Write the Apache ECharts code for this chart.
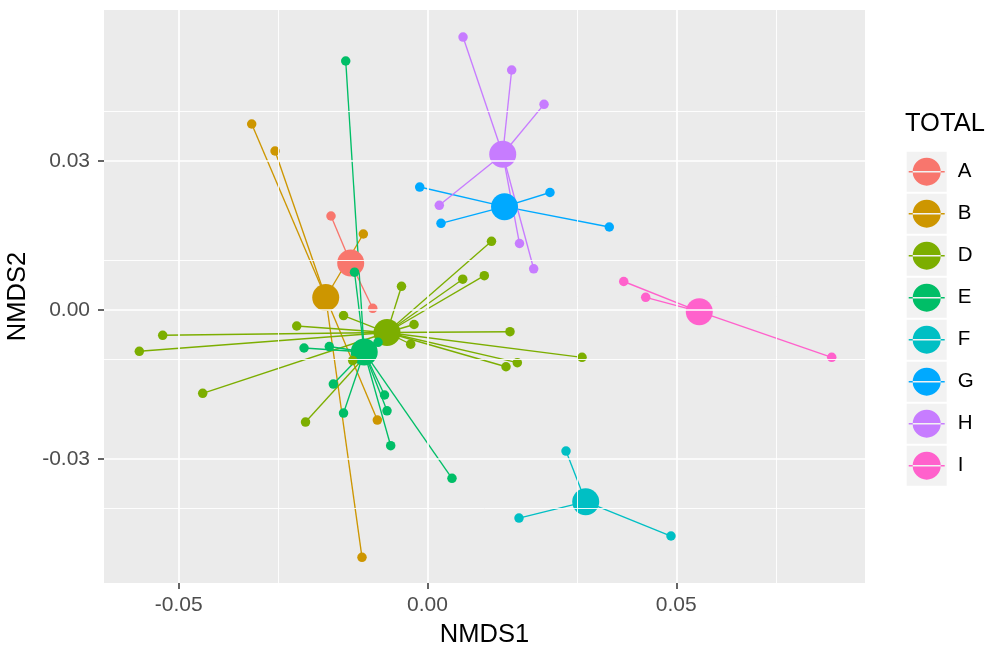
<!DOCTYPE html>
<html><head><meta charset="utf-8">
<script src="https://cdn.jsdelivr.net/npm/echarts@6/dist/echarts.min.js"></script>
<style>html,body{margin:0;padding:0;background:#fff}#c{width:992px;height:650px}</style>
</head><body><div id="c"></div>
<script>
// ---- data ----
const groups = ['A', 'B', 'D', 'E', 'F', 'G', 'H', 'I'];
const colors = ['#F8766D', '#CD9600', '#7CAE00', '#00BE67', '#00BFC4', '#00A9FF', '#C77CFF', '#FF61CC'];
const centroidX = [-0.01544, -0.02046, -0.00814, -0.01272, 0.03180, 0.01548, 0.01512, 0.05463];
const centroidY = [0.00946, 0.00252, -0.00453, -0.00846, -0.03859, 0.02080, 0.03135, -0.00034];
const ptsA = [[-0.01940, 0.01893], [-0.01101, 0.00034]];
const ptsB = [[-0.03534, 0.03745], [-0.03065, 0.03201], [-0.01290, 0.01530], [-0.01009, -0.02215], [-0.01317, -0.04979]];
const ptsD = [[-0.00523, 0.00477], [-0.01688, -0.00111], [-0.02629, -0.00322], [-0.05323, -0.00509], [-0.05793, -0.00831],
  [-0.04519, -0.01677], [-0.02452, -0.02255], [-0.01504, -0.01017], [-0.00271, -0.00292], [-0.00338, -0.00689],
  [0.00708, 0.00620], [0.01142, 0.00691], [0.01286, 0.01383], [0.01658, -0.00437], [0.03106, -0.00952],
  [0.01805, -0.01061], [0.01578, -0.01142]];
const ptsE = [[-0.01644, 0.05013], [-0.01467, 0.00761], [-0.02482, -0.00765], [-0.01974, -0.00735], [-0.00995, -0.00650],
  [-0.01893, -0.01490], [-0.01688, -0.02074], [-0.00864, -0.01711], [-0.00814, -0.02029], [-0.00740, -0.02732],
  [0.00492, -0.03388]];
const ptsF = [[0.02784, -0.02839], [0.01839, -0.04188], [0.04894, -0.04550]];
const ptsG = [[-0.00157, 0.02476], [0.00271, 0.01746], [0.02462, 0.02366], [0.03654, 0.01671]];
const ptsH = [[0.00714, 0.05496], [0.01692, 0.04832], [0.02342, 0.04141], [0.00237, 0.02108], [0.01849, 0.01339], [0.02134, 0.00830]];
const ptsI = [[0.03944, 0.00574], [0.04386, 0.00256], [0.08125, -0.00952]];
const groupPoints = [ptsA, ptsB, ptsD, ptsE, ptsF, ptsG, ptsH, ptsI];

const xMajor = [-0.05, 0, 0.05];
const xMinor = [-0.025, 0.025, 0.075];
const yMajor = [-0.03, 0, 0.03];
const yMinor = [-0.045, -0.015, 0.015, 0.045];
const xRange = [-0.06503, 0.08794];
const yRange = [-0.05496, 0.0604];

// ---- chart ----
const FONT = 'Liberation Sans, Arial, Helvetica, sans-serif';
const chart = echarts.init(document.getElementById('c'), null, { renderer: 'canvas' });

const series = [];
const gridLines = [];
xMajor.forEach(v => gridLines.push({ xAxis: v, lineStyle: { width: 1.7 } }));
xMinor.forEach(v => gridLines.push({ xAxis: v, lineStyle: { width: 0.9 } }));
yMajor.forEach(v => gridLines.push({ yAxis: v, lineStyle: { width: 1.7 } }));
yMinor.forEach(v => gridLines.push({ yAxis: v, lineStyle: { width: 0.9 } }));
series.push({
  type: 'scatter', name: '_grid', data: [], z: 1, silent: true,
  markLine: {
    silent: true, symbol: ['none', 'none'], label: { show: false }, animation: false,
    lineStyle: { color: '#FFFFFF', type: 'solid', opacity: 1 },
    emphasis: { disabled: true },
    data: gridLines
  }
});

groups.forEach((g, i) => {
  const cx = centroidX[i], cy = centroidY[i];
  const col = colors[i];
  series.push({
    type: 'scatter', name: g, z: 3, symbol: 'circle', symbolSize: 27,
    itemStyle: { color: col, opacity: 1 },
    emphasis: { disabled: true },
    data: [[cx, cy]]
  });
  series.push({
    type: 'lines', name: g, coordinateSystem: 'cartesian2d', z: 2, silent: true,
    lineStyle: { color: col, width: 1.35, opacity: 1, curveness: 0 },
    itemStyle: { color: col },
    emphasis: { disabled: true },
    data: groupPoints[i].map(p => ({ coords: [[cx, cy], p] }))
  });
  series.push({
    type: 'scatter', name: g, z: 4, symbol: 'circle', symbolSize: 9.5,
    itemStyle: { color: col, opacity: 1 },
    emphasis: { disabled: true },
    data: groupPoints[i]
  });
});

const keyIcon = 'path://M0,13.3H36V14.7H0Z M4,14A14,14 0 1,0 32,14A14,14 0 1,0 4,14Z';

chart.setOption({
  animation: false,
  backgroundColor: '#FFFFFF',
  textStyle: { fontFamily: FONT },
  title: {
    text: 'TOTAL', left: 905, top: 111, padding: 0,
    textStyle: { fontSize: 25.5, fontWeight: 'normal', color: '#000000', fontFamily: FONT }
  },
  grid: {
    left: 104, right: 127, top: 10, bottom: 67,
    show: true, backgroundColor: '#EBEBEB', borderWidth: 0, containLabel: false,
    outerBoundsMode: 'none'
  },
  xAxis: {
    type: 'value', min: xRange[0], max: xRange[1],
    axisLine: { show: false, onZero: false },
    splitLine: { show: false },
    axisTick: { show: true, customValues: xMajor, length: 6, lineStyle: { color: '#333333', width: 1.5 } },
    axisLabel: { customValues: xMajor, formatter: v => v.toFixed(2), fontSize: 21, color: '#4D4D4D', margin: 12, fontFamily: FONT },
    name: 'NMDS1', nameLocation: 'middle', nameGap: 39,
    nameTextStyle: { fontSize: 25.5, color: '#000000', fontFamily: FONT }
  },
  yAxis: {
    type: 'value', min: yRange[0], max: yRange[1],
    axisLine: { show: false, onZero: false },
    splitLine: { show: false },
    axisTick: { show: true, customValues: yMajor, length: 6, lineStyle: { color: '#333333', width: 1.5 } },
    axisLabel: { customValues: yMajor, formatter: v => v.toFixed(2), fontSize: 21, color: '#4D4D4D', margin: 14, fontFamily: FONT },
    name: 'NMDS2', nameLocation: 'middle', nameGap: 67, nameRotate: 90,
    nameTextStyle: { fontSize: 25.5, color: '#000000', fontFamily: FONT }
  },
  legend: [
    {
      data: groups, orient: 'vertical', left: 906.7, top: 151.7, padding: 0,
      icon: 'rect', itemWidth: 40, itemHeight: 40, itemGap: 2,
      itemStyle: { color: '#F2F2F2', borderWidth: 0 },
      formatter: () => '', selectedMode: false,
      textStyle: { fontSize: 1 }
    },
    {
      data: groups, orient: 'vertical', left: 908.7, top: 157.7, padding: 0,
      icon: keyIcon, itemWidth: 36, itemHeight: 28, itemGap: 14,
      selectedMode: false,
      textStyle: { fontSize: 20.5, color: '#000000', fontFamily: FONT, padding: [0, 0, 0, 8] }
    }
  ],
  series: series
});
</script>
</body></html>
